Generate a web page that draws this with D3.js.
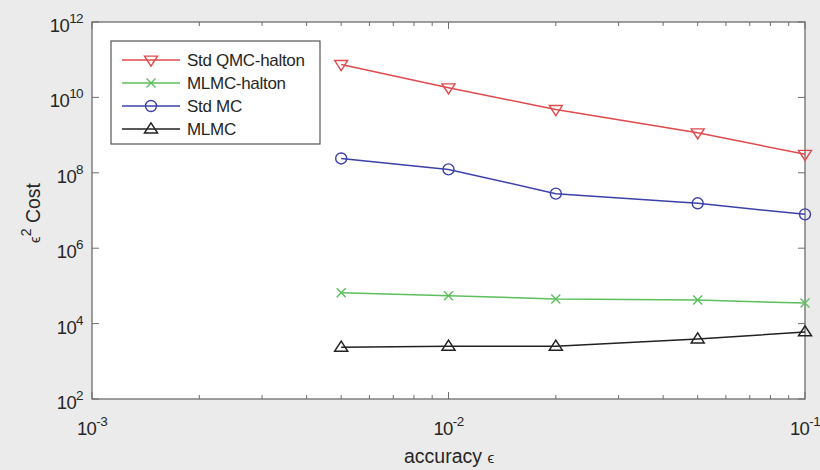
<!DOCTYPE html>
<html>
<head>
<meta charset="utf-8">
<script src="https://cdn.jsdelivr.net/npm/d3@7"></script>
<style>
  html, body { margin: 0; padding: 0; background: #ebebeb; }
  svg { display: block; font-family: "Liberation Sans", Arial, Helvetica, sans-serif; }
</style>
</head>
<body>
<svg id="chart" width="820" height="470"></svg>
<script>
// ---- data ----
const accuracy = [0.005, 0.01, 0.02, 0.05, 0.1];
const seriesNames = ["Std QMC-halton", "MLMC-halton", "Std MC", "MLMC"];
const stdQMCHalton = [7.5e10, 1.8e10, 4.8e9, 1.15e9, 3.1e8];
const mlmcHalton  = [6.6e4, 5.5e4, 4.5e4, 4.2e4, 3.5e4];
const stdMC       = [2.4e8, 1.23e8, 2.8e7, 1.55e7, 7.9e6];
const mlmc        = [2.35e3, 2.5e3, 2.5e3, 3.9e3, 6.0e3];
const xTickExps = [-3, -2, -1];
const yTickExps = [2, 4, 6, 8, 10, 12];
const xLabel = "accuracy";
const yLabel = "Cost";

// ---- layout ----
const svg = d3.select("#chart");
const L = 92, R = 805, T = 22, B = 399;
const x = d3.scaleLog().domain([1e-3, 1e-1]).range([L, R]);
const y = d3.scaleLog().domain([1e2, 1e12]).range([B, T]);
const axisColor = "#6e6e6e";

svg.append("rect").attr("x", L).attr("y", T).attr("width", R - L).attr("height", B - T)
  .attr("fill", "#ffffff");

// ticks (inward on all four sides)
const g = svg.append("g").attr("stroke", axisColor).attr("stroke-width", 1);
const xMinor = [];
for (let e = -3; e < -1; e++) for (let k = 2; k <= 9; k++) xMinor.push(k * Math.pow(10, e));
xMinor.forEach(v => {
  const px = x(v);
  g.append("line").attr("x1", px).attr("x2", px).attr("y1", B).attr("y2", B - 4);
  g.append("line").attr("x1", px).attr("x2", px).attr("y1", T).attr("y2", T + 4);
});
xTickExps.forEach(e => {
  const px = x(Math.pow(10, e));
  g.append("line").attr("x1", px).attr("x2", px).attr("y1", B).attr("y2", B - 7);
  g.append("line").attr("x1", px).attr("x2", px).attr("y1", T).attr("y2", T + 7);
});
yTickExps.forEach(e => {
  const py = y(Math.pow(10, e));
  g.append("line").attr("x1", L).attr("x2", L + 7).attr("y1", py).attr("y2", py);
  g.append("line").attr("x1", R).attr("x2", R - 7).attr("y1", py).attr("y2", py);
});

// frame
svg.append("rect").attr("x", L).attr("y", T).attr("width", R - L).attr("height", B - T)
  .attr("fill", "none").attr("stroke", axisColor).attr("stroke-width", 1.3);

// tick labels
const labColor = "#262626";
yTickExps.forEach(e => {
  const py = y(Math.pow(10, e));
  const t = svg.append("text").attr("x", L - 9).attr("y", py + 10)
    .attr("text-anchor", "end").attr("fill", labColor).attr("font-size", 18.5)
    .attr("letter-spacing", -0.6);
  t.append("tspan").text("10");
  t.append("tspan").attr("dy", -9).attr("font-size", 13.5).text(String(e));
});
xTickExps.forEach(e => {
  const px = x(Math.pow(10, e));
  const t = svg.append("text").attr("x", px).attr("y", 435)
    .attr("text-anchor", "middle").attr("fill", labColor).attr("font-size", 18.5)
    .attr("letter-spacing", -0.6);
  t.append("tspan").text("10");
  t.append("tspan").attr("dy", -9).attr("font-size", 13.5).text(String(e));
});

// axis labels
const xl = svg.append("text").attr("x", 449).attr("y", 463).attr("text-anchor", "middle")
  .attr("fill", labColor).attr("font-size", 19.5);
xl.append("tspan").text(xLabel + " ");
xl.append("tspan").attr("font-size", 15).text("ϵ");
const yl = svg.append("text").attr("transform", "translate(40,213) rotate(-90)")
  .attr("text-anchor", "middle").attr("fill", labColor).attr("font-size", 19.5);
yl.append("tspan").attr("font-size", 15).text("ϵ");
yl.append("tspan").attr("dy", -9).attr("font-size", 14).text("2");
yl.append("tspan").attr("dy", 9).text(" " + yLabel);

// ---- series ----
const series = [
  { name: seriesNames[0], values: stdQMCHalton, color: "#e04a4c", marker: "tridown" },
  { name: seriesNames[1], values: mlmcHalton, color: "#5cbf5c", marker: "x" },
  { name: seriesNames[2], values: stdMC, color: "#3b41a8", marker: "circle" },
  { name: seriesNames[3], values: mlmc, color: "#222222", marker: "triup" }
];

function drawMarker(sel, type, cx, cy, color) {
  if (type === "circle") {
    sel.append("circle").attr("cx", cx).attr("cy", cy).attr("r", 5.5)
      .attr("fill", "none").attr("stroke", color).attr("stroke-width", 1.4);
  } else if (type === "x") {
    const s = 4.5;
    sel.append("path").attr("d", `M${cx - s},${cy - s}L${cx + s},${cy + s}M${cx - s},${cy + s}L${cx + s},${cy - s}`)
      .attr("stroke", color).attr("stroke-width", 1.4).attr("fill", "none");
  } else if (type === "tridown") {
    const s = 6.5;
    sel.append("path").attr("d", `M${cx - s},${cy - s * 0.6}L${cx + s},${cy - s * 0.6}L${cx},${cy + s * 0.95}Z`)
      .attr("fill", "none").attr("stroke", color).attr("stroke-width", 1.4);
  } else if (type === "triup") {
    const s = 6.5;
    sel.append("path").attr("d", `M${cx - s},${cy + s * 0.6}L${cx + s},${cy + s * 0.6}L${cx},${cy - s * 0.95}Z`)
      .attr("fill", "none").attr("stroke", color).attr("stroke-width", 1.5);
  }
}

const line = d3.line().x(d => x(d[0])).y(d => y(d[1]));
series.forEach(s => {
  const pts = accuracy.map((a, i) => [a, s.values[i]]);
  svg.append("path").datum(pts).attr("d", line).attr("fill", "none")
    .attr("stroke", s.color).attr("stroke-width", 1.5);
  const mg = svg.append("g");
  pts.forEach(p => drawMarker(mg, s.marker, x(p[0]), y(p[1]), s.color));
});

// ---- legend ----
const lg = svg.append("g");
lg.append("rect").attr("x", 111).attr("y", 41).attr("width", 209).attr("height", 103)
  .attr("fill", "#ffffff").attr("stroke", "#555555").attr("stroke-width", 1.2);
series.forEach((s, i) => {
  const ly = 60 + i * 23;
  lg.append("line").attr("x1", 122).attr("x2", 180).attr("y1", ly).attr("y2", ly)
    .attr("stroke", s.color).attr("stroke-width", 1.5);
  drawMarker(lg, s.marker, 151, ly, s.color);
  lg.append("text").attr("x", 187).attr("y", ly + 6).attr("fill", labColor)
    .attr("font-size", 17).attr("letter-spacing", -0.3).text(s.name);
});
</script>
</body>
</html>
